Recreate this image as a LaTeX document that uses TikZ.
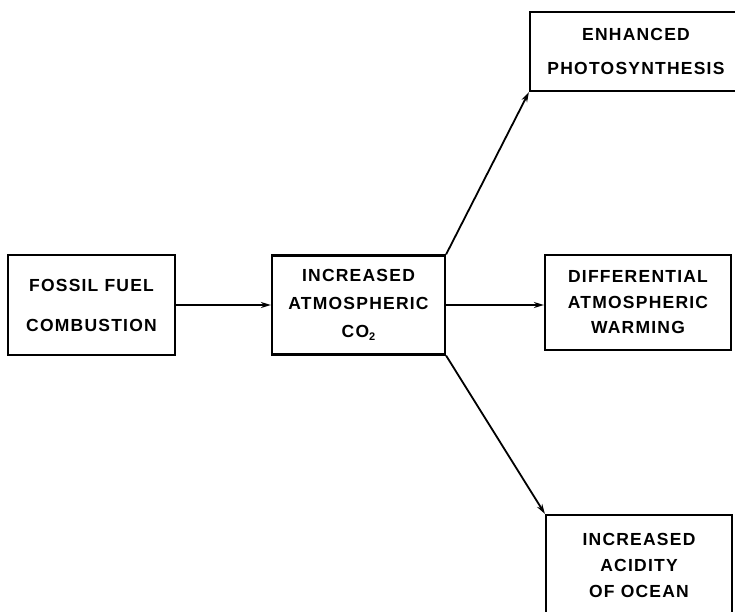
\documentclass[tikz,border=0pt]{standalone}
\usepackage{fontspec}
\setmainfont[LetterSpace=7]{Liberation Sans}
\usetikzlibrary{arrows.meta}
\begin{document}
\begin{tikzpicture}[x=1pt,y=-1pt,
  box/.style={draw=black,line width=2.2pt,inner sep=0pt,align=center,anchor=center},
  conn/.style={line width=1.8pt,-{Stealth[length=10pt,width=6pt]}}]
\useasboundingbox (0,0) rectangle (735,612);
\fill[white] (0,0) rectangle (735,612);
\begin{scope}
\clip (0,0) rectangle (735,612);
\node[box,minimum width=167pt,minimum height=100pt,font=\fontsize{17.5}{40}\selectfont\bfseries] (fossil) at (91.5,305) {FOSSIL FUEL\\COMBUSTION};
\node[box,minimum width=173pt,minimum height=99pt,font=\fontsize{17.5}{28}\selectfont\bfseries] (co2) at (358.5,305) {INCREASED\\ATMOSPHERIC\\CO\raisebox{-3pt}{\fontsize{11}{11}\selectfont 2}};
\node[box,minimum width=186pt,minimum height=95pt,font=\fontsize{17.5}{25.5}\selectfont\bfseries] (diff) at (638,302.5) {DIFFERENTIAL\\ATMOSPHERIC\\WARMING};
\node[box,minimum width=212pt,minimum height=79pt,font=\fontsize{17.5}{34}\selectfont\bfseries] (enh) at (636,51.5) {ENHANCED\\PHOTOSYNTHESIS};
\node[box,minimum width=186pt,minimum height=100pt,font=\fontsize{17.5}{26}\selectfont\bfseries] (acid) at (639,565) {INCREASED\\ACIDITY\\OF OCEAN};
\draw[conn] (fossil.east) -- (fossil.east -| co2.west);
\draw[conn] (co2.east) -- (co2.east -| diff.west);
\draw[conn] (co2.north east) -- (enh.south west);
\draw[conn] (co2.south east) -- (acid.north west);
\end{scope}
\end{tikzpicture}
\end{document}
